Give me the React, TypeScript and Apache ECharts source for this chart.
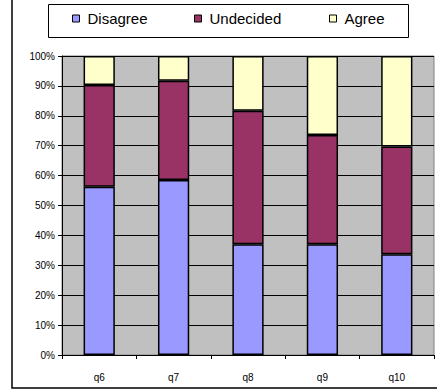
import React, { useEffect, useRef } from "react";
import * as echarts from "echarts";

const categories = ["q6", "q7", "q8", "q9", "q10"];
const disagree = [56.3, 58.5, 37.0, 37.0, 33.7];
const undecided = [34.0, 33.2, 44.7, 36.6, 36.0];
const agree = [9.7, 8.3, 18.3, 26.4, 30.3];
const seriesNames = ["Disagree", "Undecided", "Agree"];
const seriesColors = ["#9999FF", "#993366", "#FFFFCC"];
const legendLefts = [72, 194, 329];

const FONT = "'Liberation Sans', Arial, sans-serif";

export default function App() {
  const ref = useRef<HTMLDivElement>(null);
  useEffect(() => {
    if (!ref.current) return;
    const chart = echarts.init(ref.current, null, { renderer: "svg" });
    const values = [disagree, undecided, agree];
    chart.setOption({
      animation: false,
      backgroundColor: "#FFFFFF",
      textStyle: { fontFamily: FONT },
      graphic: [
        {
          type: "rect",
          shape: { x: 12, y: -5, width: 440, height: 393 },
          style: { fill: "none", stroke: "#000", lineWidth: 1.5 },
          silent: true,
        },
        {
          type: "rect",
          shape: { x: 48.5, y: 4.5, width: 360, height: 33 },
          style: { fill: "#fff", stroke: "#000", lineWidth: 1 },
          silent: true,
          z: -1,
        },
      ],
      legend: seriesNames.map((n, i) => ({
        data: [n],
        left: legendLefts[i],
        top: 11,
        padding: 0,
        itemWidth: 7,
        itemHeight: 7,
        icon: "rect",
        itemStyle: { borderColor: "#000", borderWidth: 1 },
        textStyle: { fontSize: 15, color: "#000", fontFamily: FONT, padding: [0, 0, 0, 3] },
        selectedMode: false,
      })),
      grid: {
        left: 62,
        right: 3,
        top: 56,
        bottom: 37,
        show: true,
        backgroundColor: "#C0C0C0",
        borderColor: "#808080",
        borderWidth: 1,
      },
      xAxis: {
        type: "category",
        data: categories,
        boundaryGap: true,
        axisLine: { lineStyle: { color: "#000", width: 1 } },
        axisTick: { show: true, alignWithLabel: false, length: 4, lineStyle: { color: "#000" } },
        axisLabel: { color: "#000", fontSize: 10, margin: 17, fontFamily: FONT },
      },
      yAxis: {
        type: "value",
        min: 0,
        max: 100,
        interval: 10,
        axisLine: { show: true, lineStyle: { color: "#000", width: 1 } },
        axisTick: { show: true, length: 4, lineStyle: { color: "#000" } },
        axisLabel: { color: "#000", fontSize: 10, margin: 7, formatter: "{value}%", fontFamily: FONT },
        splitLine: { show: true, lineStyle: { color: "#000", width: 1 } },
      },
      series: seriesNames.map((n, i) => ({
        name: n,
        type: "bar",
        stack: "total",
        barWidth: "42%",
        data: values[i],
        itemStyle: { color: seriesColors[i], borderColor: "#000", borderWidth: 1.5 },
      })),
    });
    return () => chart.dispose();
  }, []);
  return <div ref={ref} style={{ width: 437, height: 392, position: "absolute", left: 0, top: 0 }} />;
}
